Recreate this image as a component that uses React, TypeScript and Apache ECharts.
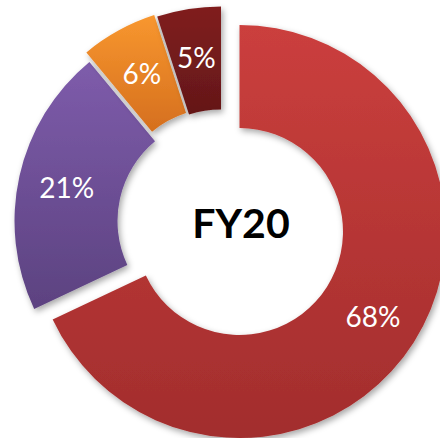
import React, { useEffect, useRef } from "react";
import * as echarts from "echarts";

const categories = ["Segment A", "Segment B", "Segment C", "Segment D"];
const values = [68, 21, 6, 5];
const topColors = ["#CB3F3D", "#7E5CAB", "#F8972F", "#801F1F"];
const bottomColors = ["#A22D2D", "#5C4280", "#D56F1E", "#641718"];
const centers: [number, number][] = [
  [239.5, 231.5],
  [221, 221],
  [218, 211.5],
  [221, 213],
];
const centerTitle = "FY20";

export default function App() {
  const ref = useRef<HTMLDivElement>(null);
  useEffect(() => {
    if (!ref.current) return;
    const chart = echarts.init(ref.current, null, { renderer: "svg" });
    const order = [1, 2, 3, 0];
    const series = order.map((i) => ({
      type: "pie",
      center: centers[i],
      radius: [103.5, 206.5],
      startAngle: 90,
      clockwise: true,
      silent: true,
      avoidLabelOverlap: false,
      labelLine: { show: false },
      emphasis: { disabled: true },
      label: {
        show: false,
        position: "inside",
        color: "#ffffff",
        fontSize: 28,
        fontFamily: "Lato",
        formatter: (p: any) => Math.round(p.percent) + "%",
      },
      data: values.map((v, j) =>
        j === i
          ? {
              value: v,
              name: categories[j],
              label: { show: true },
              itemStyle: {
                color: new echarts.graphic.LinearGradient(0, 0, 0, 1, [
                  { offset: 0, color: topColors[j] },
                  { offset: 1, color: bottomColors[j] },
                ]),
                shadowBlur: 6,
                shadowOffsetX: 2,
                shadowOffsetY: 3,
                shadowColor: "rgba(0,0,0,0.35)",
              },
            }
          : {
              value: v,
              name: categories[j],
              label: { show: false },
              itemStyle: { color: "rgba(0,0,0,0)", borderWidth: 0 },
            }
      ),
    }));
    chart.setOption({
      animation: false,
      backgroundColor: "#ffffff",
      series,
      graphic: [
        {
          type: "text",
          x: 241,
          y: 222,
          z: 100,
          style: {
            text: centerTitle,
            textAlign: "center",
            textVerticalAlign: "middle",
            font: "bold 41px Lato",
            fill: "#000000",
          },
        },
      ],
    });
    return () => chart.dispose();
  }, []);
  return (
    <div
      ref={ref}
      style={{ position: "absolute", left: 0, top: 0, width: 440, height: 438 }}
    />
  );
}
